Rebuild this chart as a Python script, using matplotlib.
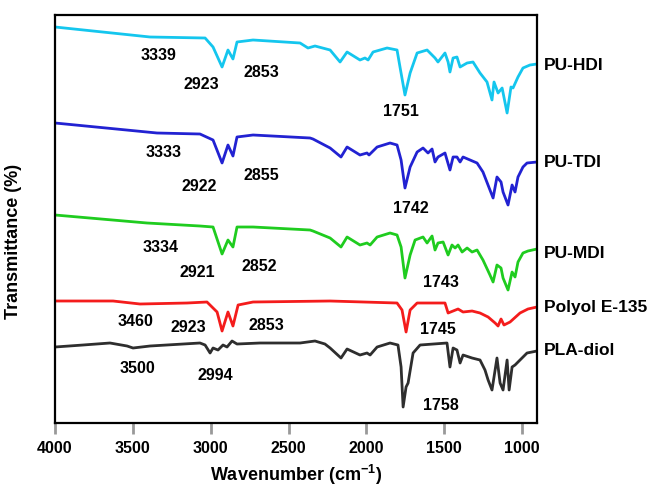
import matplotlib.pyplot as plt

plt.rcParams['font.family'] = ['Liberation Sans', 'DejaVu Sans']
plt.rcParams['mathtext.fontset'] = 'custom'
plt.rcParams['mathtext.rm'] = 'Liberation Sans'
plt.rcParams['mathtext.bf'] = 'Liberation Sans:bold'

# spectra (wavenumber, transmittance in arbitrary stacked units)
hdi_wn = [4000, 3390, 3036, 2985, 2927, 2889, 2857, 2831, 2728, 2426, 2375, 2330, 2233,
          2169, 2124, 2041, 2009, 1989, 1957, 1867, 1803, 1784, 1752, 1719, 1674, 1610,
          1559, 1540, 1495, 1475, 1463, 1443, 1418, 1398, 1353, 1315, 1270, 1225, 1193,
          1180, 1154, 1128, 1096, 1071, 1058, 1026, 994, 949, 904]
hdi_t = [396, 386, 385, 376, 356, 373, 364, 381, 383, 380, 375, 377, 373,
         361, 371, 363, 365, 363, 371, 375, 373, 356, 328, 350, 370, 373,
         365, 361, 370, 361, 351, 365, 366, 356, 360, 361, 350, 341, 323,
         341, 330, 335, 310, 336, 335, 346, 355, 358, 359]

tdi_wn = [4000, 3345, 3069, 2985, 2927, 2889, 2857, 2831, 2728, 2362, 2343, 2233, 2163,
          2124, 2041, 1996, 1983, 1931, 1848, 1803, 1777, 1752, 1719, 1674, 1636, 1604,
          1578, 1559, 1540, 1495, 1463, 1443, 1418, 1398, 1379, 1334, 1289, 1251, 1206,
          1186, 1161, 1135, 1122, 1090, 1064, 1045, 1026, 994, 968, 904]
tdi_t = [300, 290, 289, 283, 260, 278, 267, 286, 288, 285, 284, 275, 266,
         276, 268, 270, 268, 276, 280, 278, 263, 235, 256, 271, 275, 270,
         274, 261, 266, 270, 253, 266, 266, 261, 266, 263, 260, 251, 233,
         225, 246, 241, 231, 218, 238, 231, 246, 256, 260, 261]

mdi_wn = [4000, 3409, 3069, 2985, 2927, 2889, 2857, 2831, 2728, 2362, 2343, 2233, 2163,
          2124, 2041, 1996, 1976, 1931, 1848, 1803, 1777, 1752, 1719, 1687, 1636, 1610,
          1578, 1559, 1540, 1507, 1475, 1450, 1430, 1411, 1385, 1353, 1321, 1289, 1251,
          1206, 1186, 1161, 1135, 1122, 1090, 1064, 1045, 1026, 994, 962, 904]
mdi_t = [208, 200, 197, 196, 169, 183, 176, 196, 196, 193, 192, 185, 176,
         186, 178, 180, 178, 186, 190, 188, 176, 145, 168, 183, 186, 180,
         187, 173, 180, 181, 168, 178, 175, 178, 171, 175, 171, 173, 163,
         148, 141, 158, 155, 145, 133, 151, 146, 161, 170, 172, 174]

polyol_wn = [4000, 3627, 3454, 3152, 3024, 2959, 2927, 2889, 2857, 2824, 2728, 2233,
             1803, 1771, 1745, 1719, 1674, 1495, 1475, 1443, 1411, 1379, 1321, 1270,
             1218, 1173, 1154, 1135, 1116, 1077, 1013, 962, 904]
polyol_t = [122, 122, 119, 120, 121, 111, 92, 111, 97, 118, 121, 122,
            120, 113, 91, 113, 120, 120, 110, 112, 114, 111, 112, 110,
            106, 100, 97, 104, 98, 101, 110, 114, 116]

pla_wn = [4000, 3820, 3647, 3537, 3499, 3390, 3069, 3036, 3004, 2985, 2953, 2921, 2895,
          2863, 2831, 2683, 2426, 2330, 2266, 2233, 2163, 2124, 2041, 1996, 1976, 1931,
          1848, 1797, 1777, 1764, 1745, 1732, 1700, 1655, 1482, 1463, 1443, 1418, 1398,
          1379, 1321, 1270, 1238, 1218, 1193, 1161, 1141, 1122, 1096, 1083, 1064, 1045,
          1013, 968, 904]
pla_t = [76, 78, 80, 77, 75, 77, 80, 78, 70, 75, 73, 78, 76,
         82, 79, 80, 80, 82, 79, 75, 65, 74, 68, 70, 68, 76,
         80, 78, 56, 16, 36, 40, 70, 78, 80, 56, 75, 73, 60,
         68, 65, 63, 53, 43, 33, 65, 40, 33, 63, 33, 56, 58,
         63, 70, 72]

names = ['PU-HDI', 'PU-TDI', 'PU-MDI', 'Polyol E-135', 'PLA-diol']
colors = ['#14c6ee', '#2222d2', '#1fcc1f', '#f41c1c', '#2e2e2e']
name_y = [358, 261, 170, 116, 73]

# peak labels: text, x, y
peak_text = ['3339', '2923', '2853', '1751',
             '3333', '2922', '2855', '1742',
             '3334', '2921', '2852', '1743',
             '3460', '2923', '2853', '1745',
             '3500', '2994', '1758']
peak_x = [3338, 3062, 2677, 1777,
          3300, 3075, 2677, 1713,
          3325, 3088, 2689, 1520,
          3486, 3146, 2645, 1540,
          3473, 2972, 1520]
peak_y = [368, 339, 351, 312,
          271, 237, 248, 215,
          176, 151, 157, 141,
          102, 96, 98, 94,
          55, 48, 18]

fig = plt.figure(figsize=(6.52, 4.87), dpi=100)
ax = fig.add_axes([0.0844, 0.1314, 0.7392, 0.8378])

spectra = [(hdi_wn, hdi_t), (tdi_wn, tdi_t), (mdi_wn, mdi_t),
           (polyol_wn, polyol_t), (pla_wn, pla_t)]
for (wn, t), c in zip(spectra, colors):
    ax.plot(wn, t, color=c, lw=2.0, solid_joinstyle='round')

for txt, x, y in zip(peak_text, peak_x, peak_y):
    ax.text(x, y, txt, ha='center', va='center', fontsize=11.5, fontweight='bold')

for n, y in zip(names, name_y):
    ax.annotate(n, xy=(1.014, y), xycoords=('axes fraction', 'data'),
                ha='left', va='center', fontsize=12.5, fontweight='bold')

ax.set_xlim(4000, 904)
ax.set_ylim(0, 408)
ax.set_xticks([4000, 3500, 3000, 2500, 2000, 1500, 1000])
ax.set_yticks([])
ax.tick_params(axis='x', direction='out', length=8, width=2, color='#999999',
               labelsize=11.5, pad=5)
for lab in ax.get_xticklabels():
    lab.set_fontweight('bold')
for sp in ax.spines.values():
    sp.set_linewidth(1.6)

ax.set_xlabel(r'Wavenumber (cm$^{\mathbf{-1}}$)', fontsize=13, fontweight='bold')
ax.xaxis.set_label_coords(0.5, -0.097)
ax.set_ylabel('Transmittance (%)', fontsize=13, fontweight='bold')
ax.yaxis.set_label_coords(-0.068, 0.446)

fig.savefig('out.png', dpi=100)
